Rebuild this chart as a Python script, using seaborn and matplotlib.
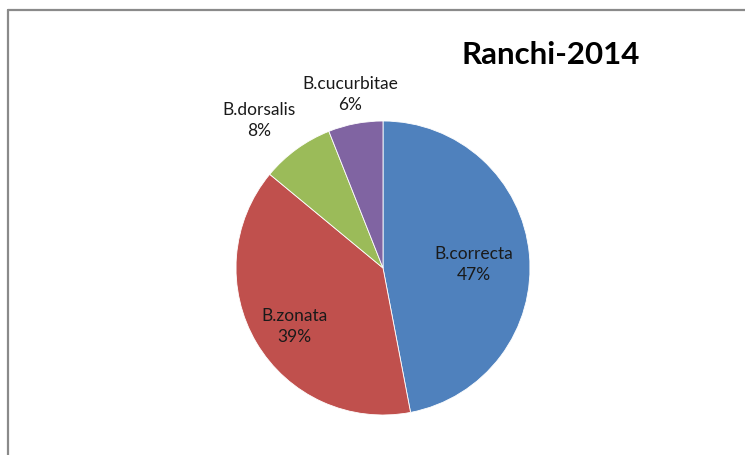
import matplotlib
matplotlib.use("Agg")
import matplotlib.pyplot as plt
import seaborn as sns
import numpy as np
from matplotlib.lines import Line2D

categories = ["B.correcta", "B.zonata", "B.dorsalis", "B.cucurbitae"]
values = [47, 39, 8, 6]
colors = ["#4F81BD", "#C0504D", "#9BBB59", "#8064A2"]
label_dist = [0.62, 0.72, 1.31, 1.20]
label_nudge = [-3, 3, 4, 0]
title = "Ranchi-2014"

sns.set_theme(style="white")
plt.rcParams['font.family'] = ['Lato', 'DejaVu Sans']

W, H = 745, 455
fig = plt.figure(figsize=(W / 100, H / 100), dpi=100)
fig.patch.set_facecolor("white")

cx, cy, r = 383, 268, 147
ax = fig.add_axes([(cx - r) / W, 1 - (cy + r) / H, 2 * r / W, 2 * r / H])
wedges, _ = ax.pie(values, colors=colors, startangle=90, counterclock=False,
                   radius=1, wedgeprops=dict(edgecolor="white", linewidth=0.6))
ax.set_xlim(-1, 1)
ax.set_ylim(-1, 1)
ax.set_aspect("equal")
ax.axis("off")

for w, cat, v, d, n in zip(wedges, categories, values, label_dist, label_nudge):
    ang = np.deg2rad((w.theta1 + w.theta2) / 2 + n)
    ax.text(d * np.cos(ang), d * np.sin(ang), f"{cat}\n{v}%", ha="center", va="center",
            fontsize=12.5, color="#1a1a1a", linespacing=1.4, clip_on=False)

fig.text(551 / W, 1 - 55 / H, title, ha="center", va="center", fontsize=22.5,
         fontweight="bold", color="black")

border = "#8a8a8a"
fig.add_artist(Line2D([8 / W, 8 / W], [0, 1 - 10 / H], color=border, lw=1.6, transform=fig.transFigure))
fig.add_artist(Line2D([8 / W, 1], [1 - 10 / H, 1 - 10 / H], color=border, lw=1.6, transform=fig.transFigure))

fig.savefig("out.png", dpi=100, facecolor="white")
